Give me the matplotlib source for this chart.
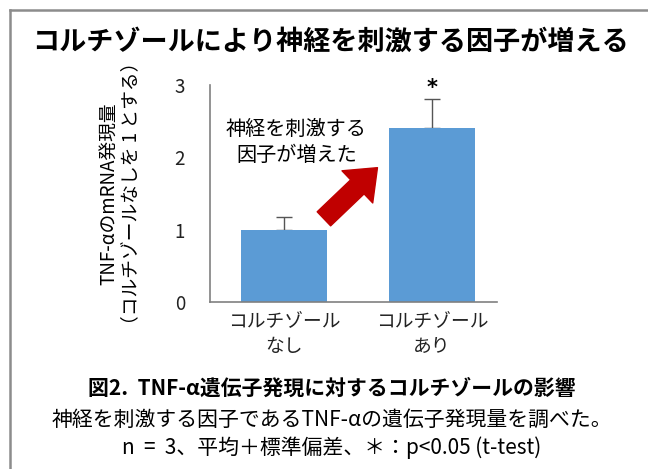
import numpy as np
import matplotlib
matplotlib.use('Agg')
import matplotlib.pyplot as plt
from matplotlib.patches import FancyArrowPatch
from matplotlib.lines import Line2D

plt.rcParams['font.family'] = ['Noto Sans CJK JP', 'DejaVu Sans']

# data
categories = ['コルチゾール\nなし', 'コルチゾール\nあり']
means = [1.0, 2.41]
errors = [0.17, 0.40]
yticks = [0, 1, 2, 3]

fig = plt.figure(figsize=(6.48, 4.69), dpi=100)

# gray frame (left and top edges visible)
fig.add_artist(Line2D([10/648, 10/648], [0, 1 - 10/469], transform=fig.transFigure,
                      color='#8c8c8c', lw=1.8))
fig.add_artist(Line2D([10/648, 1], [1 - 10/469, 1 - 10/469], transform=fig.transFigure,
                      color='#8c8c8c', lw=1.8))

ax = fig.add_axes([210/648, 1 - 302/469, 287/648, 217/469])
x = np.arange(len(categories))
ax.bar(x, means, width=0.58, color='#5B9BD5', zorder=2)
ax.errorbar(x, means, yerr=[[0, 0], errors], fmt='none', ecolor='#555555',
            elinewidth=1, capsize=6, capthick=1, zorder=1)

ax.set_xlim(-0.5, 1.44)
ax.set_ylim(0, 3)
ax.set_yticks(yticks)
ax.set_xticks(x)
ax.set_xticklabels(categories, fontsize=13.5, linespacing=1.3)
ax.tick_params(axis='both', length=0, labelsize=13.5, colors='#222222')
ax.tick_params(axis='y', pad=18)
ax.tick_params(axis='x', pad=6)
for s in ['top', 'right']:
    ax.spines[s].set_visible(False)
for s in ['left', 'bottom']:
    ax.spines[s].set_color('#808080')
    ax.spines[s].set_linewidth(1.2)

ax.set_ylabel('TNF-αのmRNA発現量\n（コルチゾールなしを 1 とする）', fontsize=13.5,
              linespacing=1.05, labelpad=24)

ax.text(1, 2.96, '*', ha='center', va='center', fontsize=15, fontweight='bold',
        family='DejaVu Sans')

ax.text(0.085, 2.2, '神経を刺激する\n因子が増えた', ha='center', va='center',
        fontsize=14.5, linespacing=1.3)

arrow = FancyArrowPatch((0.27, 1.15), (0.632, 1.857),
                        arrowstyle='simple,head_length=20,head_width=32,tail_width=14',
                        mutation_scale=1, color='#C00000', shrinkA=0, shrinkB=0,
                        zorder=3)
ax.add_patch(arrow)

fig.text(0.51, 1 - 42/469, 'コルチゾールにより神経を刺激する因子が増える',
         ha='center', va='center', fontsize=19.5, fontweight='bold')
fig.text(0.512, 1 - 388/469, '図2.  TNF-α遺伝子発現に対するコルチゾールの影響',
         ha='center', va='center', fontsize=15, fontweight='bold')
fig.text(0.512, 1 - 420/469, '神経を刺激する因子であるTNF-αの遺伝子発現量を調べた。',
         ha='center', va='center', fontsize=15)
fig.text(0.512, 1 - 448/469, 'n  =  3、平均＋標準偏差、＊：p<0.05 (t-test)',
         ha='center', va='center', fontsize=15)

fig.savefig('out.png', dpi=100)
